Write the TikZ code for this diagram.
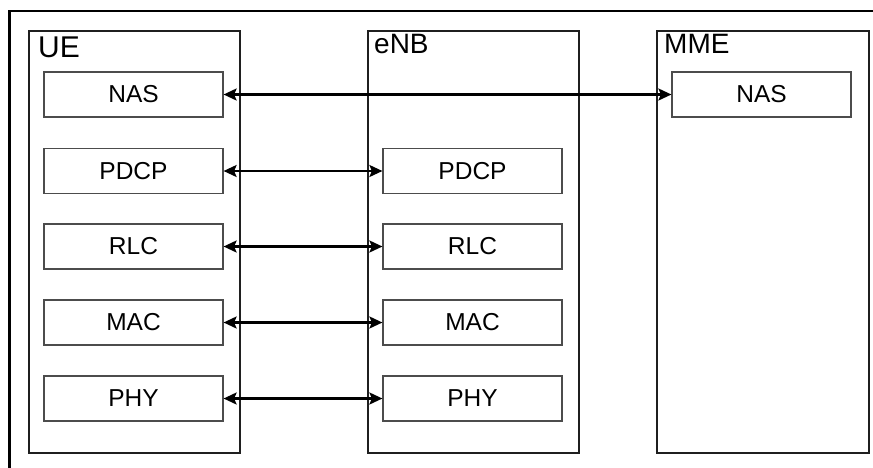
\documentclass[tikz,border=0pt]{standalone}
\usepackage{fontspec}
\setmainfont{Liberation Sans}
\usetikzlibrary{arrows.meta}
\begin{document}
\begin{tikzpicture}[x=1pt,y=-1pt,
  entity/.style={draw=black!88,line width=2pt,minimum width=211pt,minimum height=422pt,anchor=north west,inner sep=0pt},
  layer/.style={draw=black!70,line width=1.2pt,fill=white,minimum width=179pt,minimum height=45pt,inner sep=0pt,font=\fontsize{24.5}{27}\selectfont},
  title/.style={anchor=base west,inner sep=0pt,font=\fontsize{28}{30}\selectfont},
  link/.style={line width=2.2pt,{Stealth[length=13pt,width=12pt,inset=2.5pt]}-{Stealth[length=13pt,width=12pt,inset=2.5pt]}}]
\useasboundingbox (0,0) rectangle (873,467);
\fill[white] (0,0) rectangle (873,467);
\coordinate (fb) at (9.5,470);
\coordinate (fc) at (9.5,11);
\coordinate (fr) at (876,11);
\draw[line width=2.5pt] (fb) -- (fc) -- (fr);
\node[entity] (ue) at (28,30) {};
\node[entity] (enb) at (367,30) {};
\node[entity, minimum width=212pt] (mme) at (656,30) {};
\node[title,font=\fontsize{30}{32}\selectfont] (uet) at (38,57) {UE};
\node[title] (enbt) at (374,53) {eNB};
\node[title] (mmet) at (664,53) {MME};
\foreach \n/\t/\y in {nas/NAS/94.5,pdcp/PDCP/171,rlc/RLC/246.5,mac/MAC/322.5,phy/PHY/398.5}{
  \node[layer] (u\n) at (133.5,\y) {\t};
}
\foreach \n/\t/\y in {pdcp/PDCP/171,rlc/RLC/246.5,mac/MAC/322.5,phy/PHY/398.5}{
  \node[layer] (e\n) at (472.5,\y) {\t};
}
\node[layer] (mnas) at (761.5,94.5) {NAS};
\draw[link] (unas) -- (mnas);
\draw[link] (updcp) -- (epdcp);
\draw[link] (urlc) -- (erlc);
\draw[link] (umac) -- (emac);
\draw[link] (uphy) -- (ephy);
\end{tikzpicture}
\end{document}
